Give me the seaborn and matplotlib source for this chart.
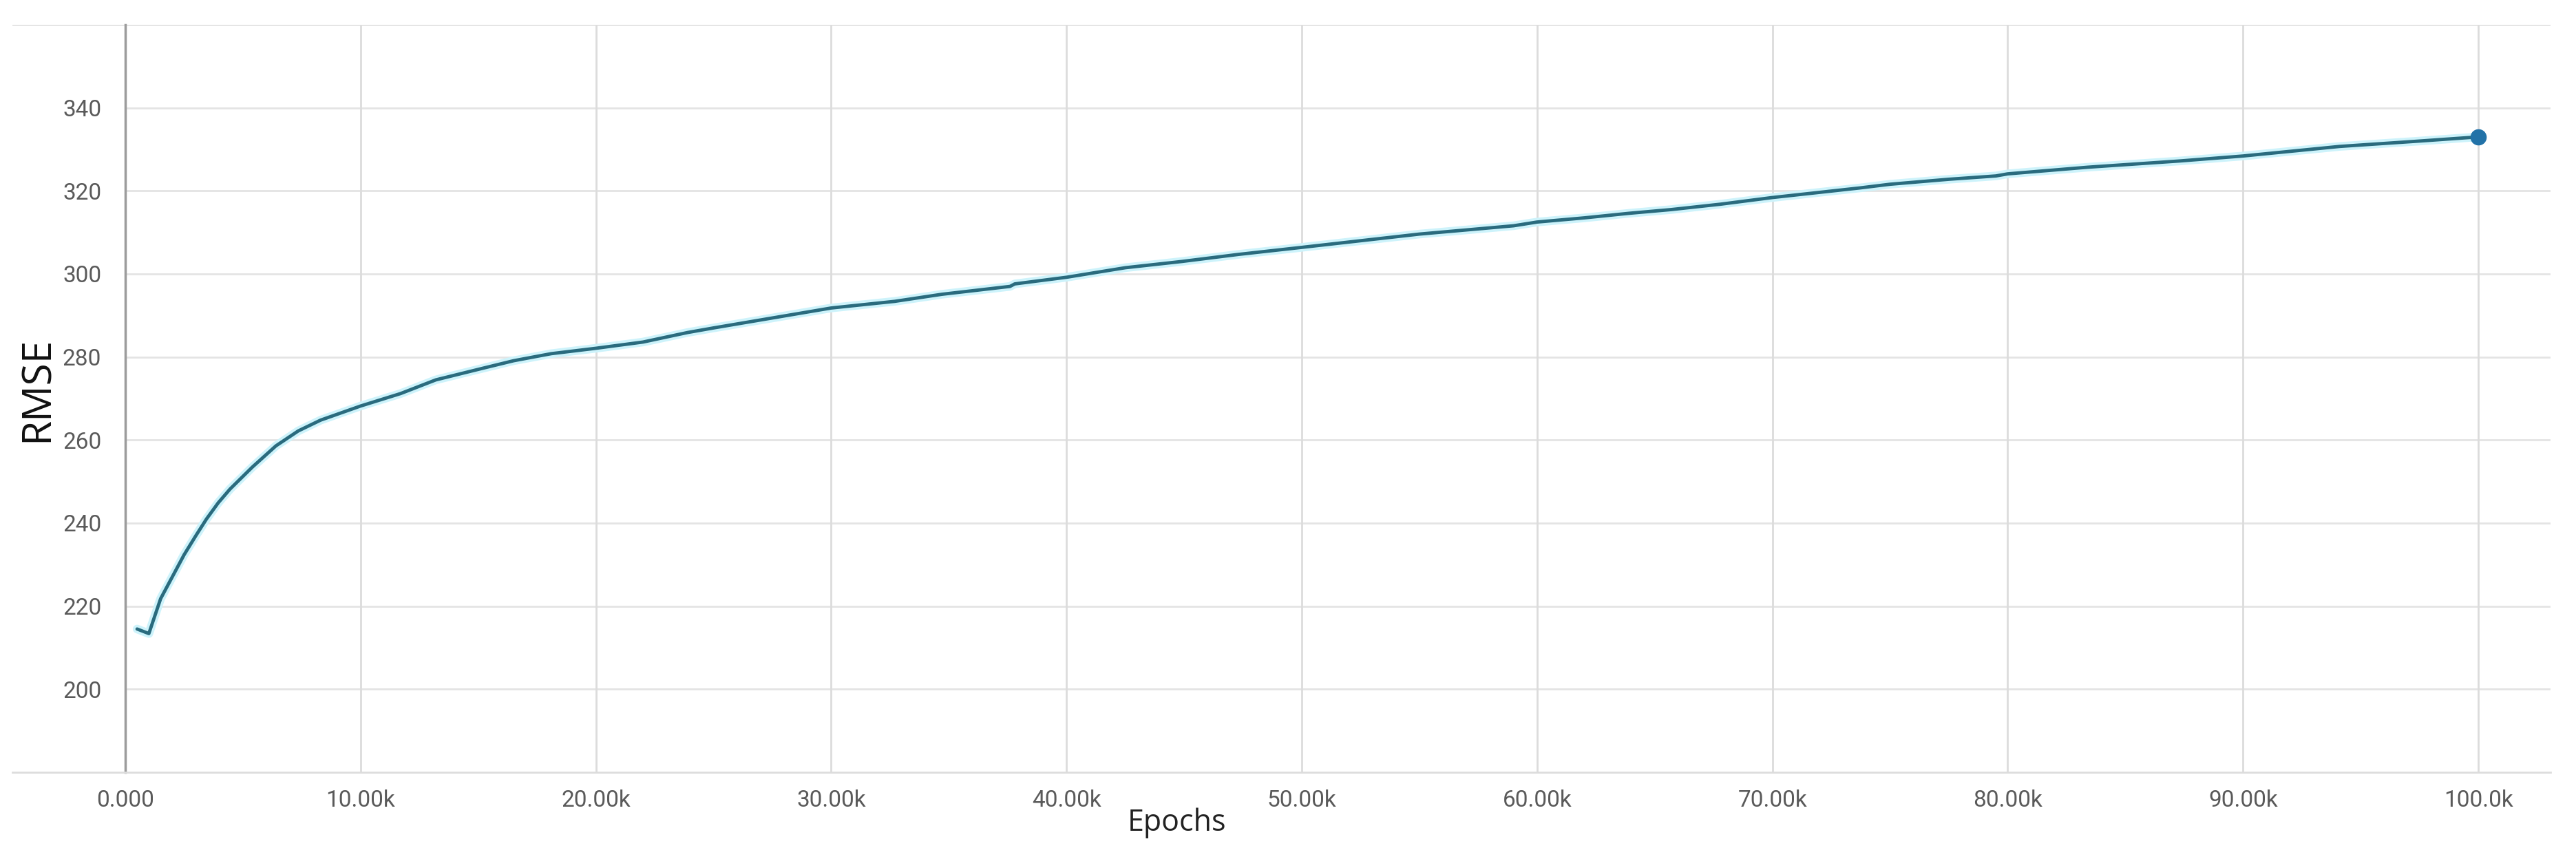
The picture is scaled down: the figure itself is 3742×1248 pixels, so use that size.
import matplotlib
matplotlib.use("Agg")
import matplotlib.pyplot as plt
import seaborn as sns

# valores (época, RMSE)
epocas = [500, 1000, 1500, 2000, 2500, 3000, 3450, 3950, 4450, 5400, 6400, 7350,
          8300, 9300, 10000, 11700, 13200, 15200, 16500, 18100, 20000, 22000,
          23900, 25000, 30000, 32700, 34700, 37600, 37800, 40000, 42500, 44900,
          47300, 50000, 55000, 59000, 60000, 62000, 63900, 65700, 67800, 70000,
          73700, 75000, 77500, 79500, 80000, 83400, 87300, 90000, 94100, 97500,
          100000]
rmse = [214.5, 213.4, 221.8, 227.1, 232.4, 237.0, 241.0, 244.9, 248.2, 253.5,
        258.6, 262.2, 264.8, 266.8, 268.2, 271.2, 274.5, 277.3, 279.1, 280.8,
        282.1, 283.6, 285.9, 287.0, 291.8, 293.4, 295.1, 297.0, 297.6, 299.2,
        301.5, 303.0, 304.7, 306.4, 309.6, 311.6, 312.5, 313.5, 314.6, 315.5,
        316.8, 318.4, 320.7, 321.6, 322.8, 323.6, 324.1, 325.7, 327.2, 328.4,
        330.7, 332.0, 333.0]

x_ticks = [0, 10000, 20000, 30000, 40000, 50000, 60000, 70000, 80000, 90000, 100000]
x_labels = ["0.000", "10.00k", "20.00k", "30.00k", "40.00k", "50.00k",
            "60.00k", "70.00k", "80.00k", "90.00k", "100.0k"]
y_ticks = [200, 220, 240, 260, 280, 300, 320, 340]

sns.set_style("white")
plt.rcParams["font.family"] = ["Roboto", "DejaVu Sans"]

W, H = 3742, 1248
fig = plt.figure(figsize=(W / 100, H / 100), dpi=100)
fig.patch.set_facecolor("white")
ax = fig.add_axes([18 / W, 126 / H, (3705 - 18) / W, (1212 - 126) / H])

x_min, x_max = -4800, 103070
ax.set_xlim(x_min, x_max)
ax.set_ylim(180, 360)

cor_grid = "#e4e4e4"

# grades
ax.hlines(y_ticks, 0, x_max, color=cor_grid, lw=2, zorder=0)
ax.axhline(360, color=cor_grid, lw=2, zorder=0)
for xt in x_ticks[1:]:
    ax.axvline(xt, color="#dcdcdc", lw=2, zorder=0)

# linha com "brilho"
sns.lineplot(x=epocas, y=rmse, ax=ax, color="#cdf3fb", lw=9, zorder=2)
sns.lineplot(x=epocas, y=rmse, ax=ax, color="#2a6b7e", lw=3.5, zorder=3)
ax.plot(epocas[-1], rmse[-1], "o", color="#2272a8", markersize=16, zorder=4)

# eixos
ax.spines["top"].set_visible(False)
ax.spines["right"].set_visible(False)
ax.spines["left"].set_position(("data", 0))
ax.spines["left"].set_color("#9c9c9c")
ax.spines["left"].set_linewidth(2.5)
ax.spines["left"].set_zorder(1)
ax.spines["bottom"].set_color("#dcdcdc")
ax.spines["bottom"].set_linewidth(2)

ax.set_xticks(x_ticks)
ax.set_xticklabels(x_labels)
ax.set_yticks(y_ticks)
ax.set_yticklabels([str(v) for v in y_ticks])
ax.tick_params(axis="x", length=7, width=2, color="#dcdcdc", pad=11,
               labelsize=24, labelcolor="#5a5a5a")
ax.tick_params(axis="y", length=11, width=2, color="#d6d6d6", pad=14,
               labelsize=24, labelcolor="#5a5a5a")
ax.set_xlabel("")
ax.set_ylabel("")
ax.grid(False)

fig.text(55 / W, 1 - 565 / H, "RMSE", rotation=90, ha="center", va="center",
         fontsize=42, color="#111111", family=["Open Sans", "DejaVu Sans"])
fig.text(1710 / W, 1 - 1207 / H, "Epochs", ha="center", va="baseline",
         fontsize=31, color="#222222", family=["Open Sans", "DejaVu Sans"])

fig.savefig("out.png", dpi=100, facecolor="white")
